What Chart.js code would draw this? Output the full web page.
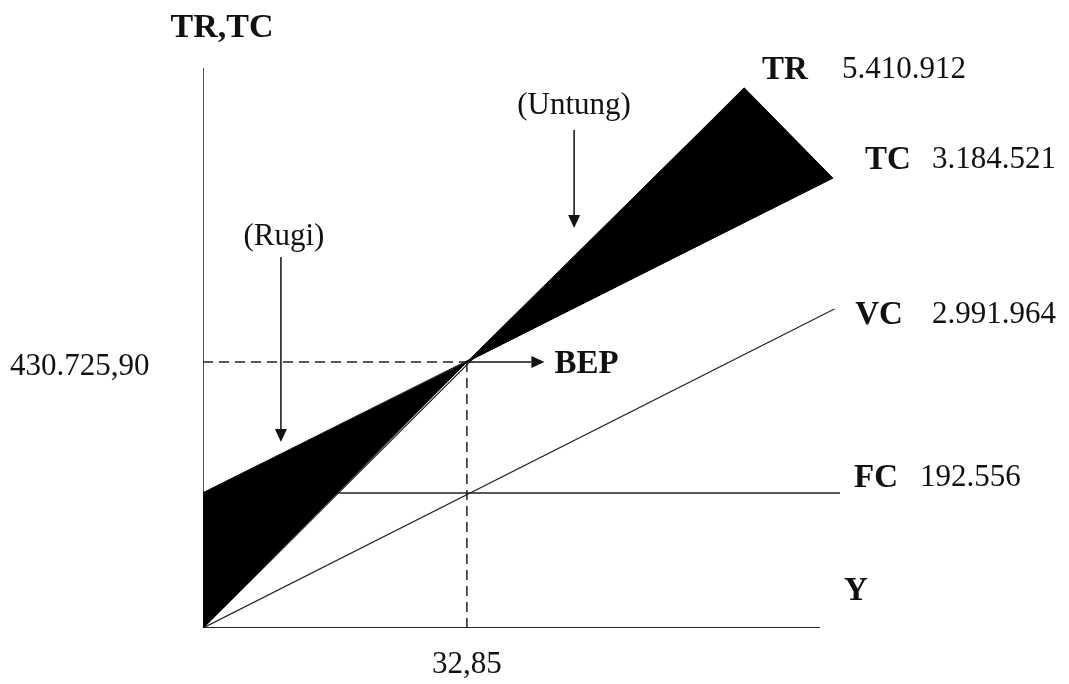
<!DOCTYPE html>
<html>
<head>
<meta charset="utf-8">
<script src="https://cdn.jsdelivr.net/npm/chart.js@4"></script>
<style>
  html, body { margin: 0; padding: 0; background: #fff; }
  #wrap { width: 1069px; height: 684px; }
</style>
</head>
<body>
<div id="wrap"><canvas id="bepChart"></canvas></div>
<script>
// break-even point (quantity, rupiah)
const bepX = 32.85;
const bepY = 430725.9;

// line end points (schematic units)
const trPoints = [[0, 0], [67.4, 874400]];
const tcPoints = [[0, 218600], [78.4, 728700]];
const vcPoints = [[0, 0], [78.6, 516600]];
const fcPoints = [[0, 218600], [79.3, 218600]];

// shaded areas
const lossArea = [[0, 218600], [0, 0], [bepX, bepY], [0, 218600]];
const profitArea = [[bepX, bepY], [67.4, 874400], [78.4, 728700], [bepX, bepY]];

// axes
const yAxisPts = [[0, 0], [0, 906800]];
const xAxisPts = [[0, 0], [76.8, 0]];

// arrows: [from, to]
const arrows = [
  [[bepX, bepY], [42.5, bepY]],
  [[9.7, 600800], [9.7, 301200]],
  [[46.2, 806400], [46.2, 647700]]
];

const lineLabels = ['TR', 'TC', 'VC', 'FC'];
const lineValues = ['5.410.912', '3.184.521', '2.991.964', '192.556'];

const toXY = arr => arr.map(p => ({ x: p[0], y: p[1] }));

function lineSet(pts, width, dash) {
  return {
    data: toXY(pts),
    showLine: true,
    borderColor: '#222',
    borderWidth: width,
    borderDash: dash || [],
    pointRadius: 0,
    fill: false,
    tension: 0
  };
}

const annotatePlugin = {
  id: 'annotate',
  afterDatasetsDraw(chart) {
    const ctx = chart.ctx;
    const xs = chart.scales.x, ys = chart.scales.y;
    const px = v => xs.getPixelForValue(v);
    const py = v => ys.getPixelForValue(v);

    // arrows
    ctx.save();
    ctx.strokeStyle = '#111';
    ctx.fillStyle = '#111';
    ctx.lineWidth = 1.5;
    arrows.forEach(a => {
      const x1 = px(a[0][0]), y1 = py(a[0][1]);
      const x2 = px(a[1][0]), y2 = py(a[1][1]);
      const ang = Math.atan2(y2 - y1, x2 - x1);
      const len = 13, half = 6;
      ctx.beginPath();
      ctx.moveTo(x1, y1);
      ctx.lineTo(x2 - Math.cos(ang) * len, y2 - Math.sin(ang) * len);
      ctx.stroke();
      ctx.beginPath();
      ctx.moveTo(x2, y2);
      ctx.lineTo(x2 - Math.cos(ang) * len - Math.sin(ang) * half, y2 - Math.sin(ang) * len + Math.cos(ang) * half);
      ctx.lineTo(x2 - Math.cos(ang) * len + Math.sin(ang) * half, y2 - Math.sin(ang) * len - Math.cos(ang) * half);
      ctx.closePath();
      ctx.fill();
    });

    ctx.textBaseline = 'middle';
    ctx.fillStyle = '#111';
    const serif = '"Liberation Serif", "Times New Roman", serif';

    // axis titles
    ctx.font = 'bold 34px ' + serif;
    ctx.textAlign = 'center';
    ctx.fillText('TR,TC', px(0) + 19, 28);
    ctx.font = 'bold 33px ' + serif;
    ctx.fillText('Y', 856, py(0) - 37);

    // line labels
    const nameX = [785, 888, 879, 876];
    const nameY = [70, 160, 315, 478];
    const valX = [842, 932, 932, 920];
    lineLabels.forEach((lab, i) => {
      ctx.font = 'bold 33px ' + serif;
      ctx.textAlign = 'center';
      ctx.fillText(lab, nameX[i], nameY[i]);
      ctx.font = '31px ' + serif;
      ctx.textAlign = 'left';
      ctx.fillText(lineValues[i], valX[i], nameY[i]);
    });

    // BEP values
    ctx.font = '31px ' + serif;
    ctx.textAlign = 'left';
    ctx.fillText('430.725,90', 10, py(bepY) + 5);
    ctx.textAlign = 'center';
    ctx.fillText('32,85', px(bepX), py(0) + 37);
    ctx.font = 'bold 33px ' + serif;
    ctx.textAlign = 'left';
    ctx.fillText('BEP', px(42.5) + 10, py(bepY) + 2);

    ctx.font = '31px ' + serif;
    ctx.textAlign = 'center';
    ctx.fillText('(Rugi)', px(9.7) + 3, 237);
    ctx.fillText('(Untung)', px(46.2), 106);
    ctx.restore();
  }
};

new Chart(document.getElementById('bepChart'), {
  type: 'scatter',
  data: {
    datasets: [
      Object.assign(lineSet(lossArea, 1), { fill: 'shape', backgroundColor: '#000', borderColor: '#000' }),
      Object.assign(lineSet(profitArea, 1), { fill: 'shape', backgroundColor: '#000', borderColor: '#000' }),
      lineSet(trPoints, 1.2),
      lineSet(tcPoints, 1.2),
      lineSet(vcPoints, 1.2),
      lineSet(fcPoints, 1.6),
      lineSet([[0, bepY], [bepX, bepY]], 1.5, [10, 6]),
      lineSet([[bepX, 0], [bepX, bepY]], 1.5, [10, 6]),
      lineSet(yAxisPts, 1.6),
      lineSet(xAxisPts, 1.8)
    ]
  },
  options: {
    responsive: true,
    maintainAspectRatio: false,
    animation: false,
    layout: { padding: { left: 203, right: 229, top: 68, bottom: 56 } },
    scales: {
      x: { type: 'linear', min: 0, max: 79.3, display: false },
      y: { type: 'linear', min: 0, max: 906800, display: false }
    },
    plugins: {
      legend: { display: false },
      tooltip: { enabled: false }
    }
  },
  plugins: [annotatePlugin]
});
</script>
</body>
</html>
